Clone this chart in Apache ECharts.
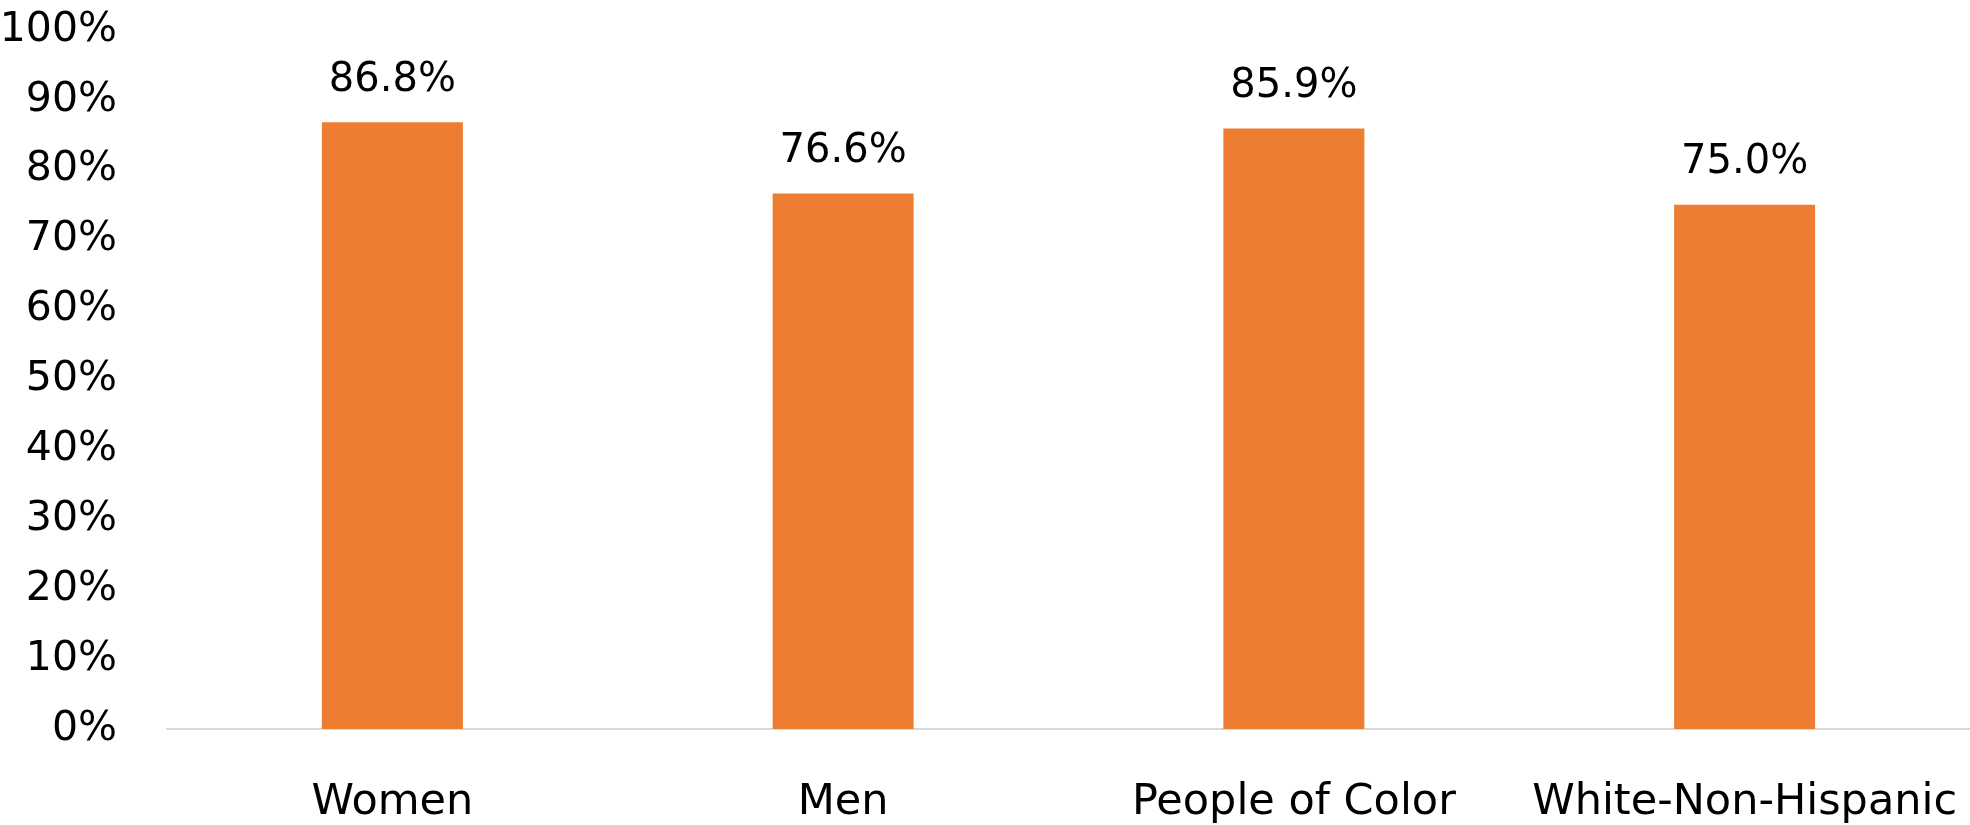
<!DOCTYPE html>
<html>
<head>
<meta charset="utf-8">
<script src="https://cdn.jsdelivr.net/npm/echarts@6/dist/echarts.min.js"></script>
<style>html,body{margin:0;padding:0;background:#fff;}#c{width:1970px;height:825px;}</style>
</head>
<body>
<div id="c"></div>
<script>
const categories = ["Women", "Men", "People of Color", "White-Non-Hispanic"];
const values = [86.8, 76.6, 85.9, 75.0];
const yTicks = [0, 10, 20, 30, 40, 50, 60, 70, 80, 90, 100];

const chart = echarts.init(document.getElementById('c'));
const font = '"DejaVu Sans", sans-serif';
chart.setOption({
  animation: false,
  grid: { left: 167, right: 0, top: 30, bottom: 96, containLabel: false, outerBoundsMode: 'none' },
  xAxis: {
    type: 'category',
    data: categories,
    axisLine: { lineStyle: { color: '#d9d9d9', width: 2 } },
    axisTick: { show: false },
    axisLabel: { color: '#000', fontSize: 43, fontFamily: font, margin: 52, interval: 0 }
  },
  yAxis: {
    type: 'value',
    min: yTicks[0],
    max: yTicks[yTicks.length - 1],
    interval: 10,
    splitLine: { show: false },
    axisLine: { show: false },
    axisTick: { show: false },
    axisLabel: { color: '#000', fontSize: 41, fontFamily: font, margin: 50, formatter: v => v + '%' }
  },
  series: [{
    type: 'bar',
    data: values,
    barWidth: 141,
    itemStyle: { color: '#ED7D31' },
    label: {
      show: true,
      position: 'top',
      distance: 22,
      color: '#000',
      fontSize: 40,
      fontFamily: font,
      formatter: p => p.value.toFixed(1) + '%'
    }
  }]
});
</script>
</body>
</html>
